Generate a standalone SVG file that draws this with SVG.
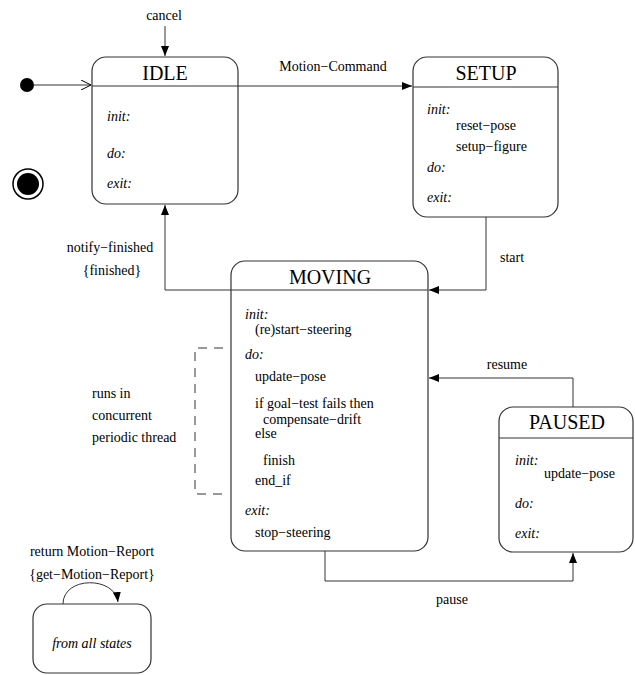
<svg xmlns="http://www.w3.org/2000/svg" width="635" height="675" viewBox="0 0 635 675">
<defs>
<marker id="arrow" viewBox="0 0 10 8" refX="10" refY="4" markerWidth="10" markerHeight="8" markerUnits="userSpaceOnUse" orient="auto">
<path d="M0,0 L10,4 L0,8 Z" fill="#000"/>
</marker>
<marker id="open" viewBox="0 0 11 10" refX="10" refY="5" markerWidth="11" markerHeight="10" markerUnits="userSpaceOnUse" orient="auto">
<path d="M0,0 L10,5 L0,10" fill="none" stroke="#000" stroke-width="1"/>
</marker>
</defs>
<style>
.box{fill:#fff;stroke:#333;stroke-width:1.2}
.sep{stroke:#333;stroke-width:1}
.edge{fill:none;stroke:#333;stroke-width:1}
text{font-family:"Liberation Serif","DejaVu Serif","Times New Roman",serif;font-size:14px;fill:#000}
.title{font-size:20px;text-anchor:middle}
.kw{font-style:italic}
.mid{text-anchor:middle}
</style>
<rect width="635" height="675" fill="#fff"/>

<!-- pseudo states -->
<g id="initial">
<circle cx="27" cy="85" r="7" fill="#000"/>
</g>
<g id="final">
<circle cx="28" cy="184" r="15" fill="#fff" stroke="#000" stroke-width="1.5"/>
<circle cx="28" cy="184" r="11" fill="#000"/>
</g>

<g id="idle">
<rect class="box" x="92" y="57" width="146" height="147" rx="14"/>
<line class="sep" x1="92" y1="86" x2="238" y2="86"/>
<text class="title" x="165" y="80">IDLE</text>
<text class="kw" x="107" y="121">init:</text>
<text class="kw" x="107" y="158">do:</text>
<text class="kw" x="107" y="188">exit:</text>
</g>

<g id="setup">
<rect class="box" x="413" y="57" width="145" height="160" rx="14"/>
<line class="sep" x1="413" y1="87" x2="558" y2="87"/>
<text class="title" x="486" y="80">SETUP</text>
<text class="kw" x="427" y="114">init:</text>
<text x="456" y="130">reset−pose</text>
<text x="456" y="151">setup−figure</text>
<text class="kw" x="427" y="172">do:</text>
<text class="kw" x="427" y="202">exit:</text>
</g>

<g id="moving">
<rect class="box" x="231" y="261" width="197" height="290" rx="14"/>
<line class="sep" x1="231" y1="290" x2="428" y2="290"/>
<text class="title" x="330" y="284">MOVING</text>
<text class="kw" x="245" y="319">init:</text>
<text x="255" y="334">(re)start−steering</text>
<text class="kw" x="245" y="359">do:</text>
<text x="255" y="381">update−pose</text>
<text x="255" y="408">if goal−test fails then</text>
<text x="263" y="424">compensate−drift</text>
<text x="255" y="438">else</text>
<text x="263" y="465">finish</text>
<text x="255" y="485">end_if</text>
<text class="kw" x="245" y="515">exit:</text>
<text x="255" y="537">stop−steering</text>
</g>

<g id="paused">
<rect class="box" x="499" y="407" width="134" height="145" rx="14"/>
<line class="sep" x1="499" y1="438" x2="633" y2="438"/>
<text class="title" x="567" y="429">PAUSED</text>
<text class="kw" x="515" y="465">init:</text>
<text x="544" y="478">update−pose</text>
<text class="kw" x="515" y="508">do:</text>
<text class="kw" x="515" y="538">exit:</text>
</g>

<g id="all-states">
<rect class="box" x="33" y="604" width="118" height="69" rx="14"/>
<text class="kw mid" x="92" y="648">from all states</text>
</g>

<!-- thread note -->
<g id="thread-note">
<path class="edge" d="M223,348 H195 V494 H223" stroke-dasharray="9,7"/>
<text x="92" y="398">runs in</text>
<text x="92" y="420">concurrent</text>
<text x="92" y="442">periodic thread</text>
</g>

<g id="connectors">
<line class="edge" x1="34" y1="85" x2="91" y2="85" marker-end="url(#open)"/>
<line class="edge" x1="165" y1="26" x2="165" y2="56" marker-end="url(#arrow)"/>
<line class="edge" x1="238" y1="86" x2="412" y2="86" marker-end="url(#arrow)"/>
<path class="edge" d="M486,217 V290 H429" marker-end="url(#arrow)"/>
<path class="edge" d="M231,290 H165 V205" marker-end="url(#arrow)"/>
<path class="edge" d="M573,407 V378 H429" marker-end="url(#arrow)"/>
<path class="edge" d="M325,551 V581 H573 V553" marker-end="url(#arrow)"/>
<path class="edge" d="M63,604 C63,576 115,576 118,602" marker-end="url(#arrow)"/>
</g>

<g id="labels">
<text class="mid" x="164" y="20">cancel</text>
<text class="mid" x="333" y="71">Motion−Command</text>
<text x="500" y="262">start</text>
<text class="mid" x="110" y="252">notify−finished</text>
<text class="mid" x="112" y="275">{finished}</text>
<text class="mid" x="507" y="369">resume</text>
<text class="mid" x="452" y="604">pause</text>
<text class="mid" x="92" y="556">return Motion−Report</text>
<text class="mid" x="92" y="579">{get−Motion−Report}</text>
</g>
</svg>
